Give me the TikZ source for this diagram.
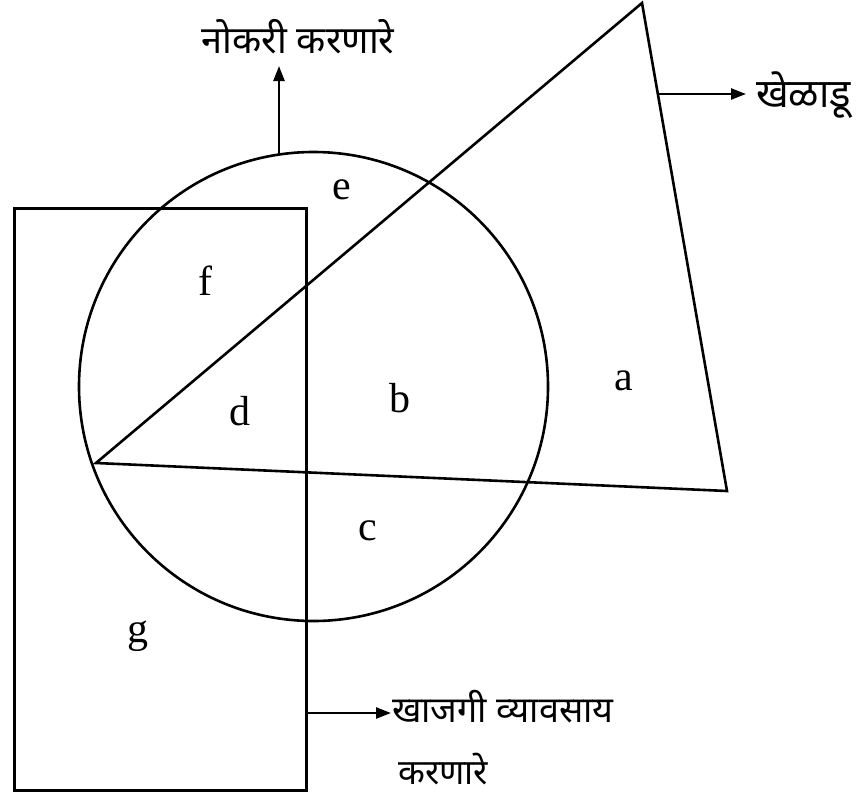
\documentclass[tikz,border=0pt]{standalone}
\usepackage{fontspec}
\setmainfont{Liberation Serif}
\newfontfamily\devfont[Script=Devanagari]{Noto Sans}
\usetikzlibrary{arrows.meta}
\begin{document}
\begin{tikzpicture}[x=1pt,y=-1pt,
  shape line/.style={line width=2.6pt},
  pointer/.style={line width=2.4pt,-{Triangle[length=15pt,width=11pt]}},
  letter/.style={font=\fontsize{42}{42}\selectfont,inner sep=0pt},
  devlabel/.style={font=\devfont\fontsize{#1}{#1}\selectfont,inner sep=0pt}]
\useasboundingbox (0,0) rectangle (865,795);
% circle
\node[shape line,draw,circle,minimum size=469pt,inner sep=0pt] (circ) at (313.5,386.5) {};
% triangle
\coordinate (tl) at (96,463);
\coordinate (tt) at (642,3);
\coordinate (tr) at (727,491);
\draw[shape line,line join=miter] (tl) -- (tt) -- (tr) -- cycle;
% rectangle
\node[shape line,draw,rectangle,minimum width=292pt,minimum height=582pt,inner sep=0pt,anchor=north west] (rect) at (13,207) {};
% labels
\node[devlabel=38,anchor=base] (naukri) at (298,53) {नोकरी करणारे};
\node[devlabel=40,anchor=base west] (khel) at (756,107) {खेळाडू};
\node[devlabel=36,anchor=base west] (khaj) at (392,722) {खाजगी व्यावसाय};
\node[devlabel=35,anchor=base west,text depth=0pt] (karan) at (398,784) {करणारे};
% connectors
\coordinate (ctop) at (279,155);
\coordinate (uptip) at (279,66);
\draw[pointer] (ctop) -- (uptip);
\coordinate (tedge) at (658,94);
\coordinate (ttip) at (746,94);
\draw[pointer] (tedge) -- (ttip);
\coordinate (redge) at (305,713);
\coordinate (rtip) at (391,713);
\draw[pointer] (redge) -- (rtip);
% region letters
\node[letter] (le) at (342,190) {e};
\node[letter] (lf) at (205,281) {f};
\node[letter] (ld) at (240,411) {d};
\node[letter] (lb) at (400,398) {b};
\node[letter] (la) at (624,381) {a};
\node[letter] (lc) at (368,531) {c};
\node[letter] (lg) at (138,636) {g};
\end{tikzpicture}
\end{document}
